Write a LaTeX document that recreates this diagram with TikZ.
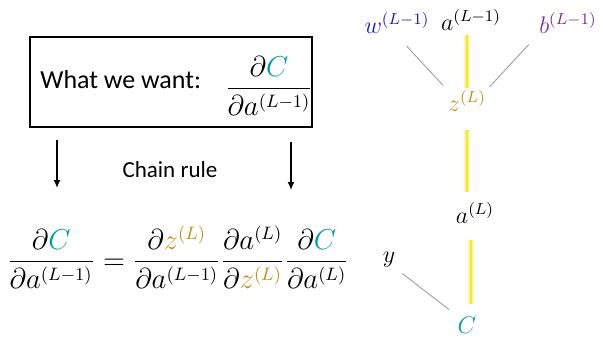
\documentclass[tikz,border=0pt]{standalone}
\usepackage{fontspec}
\setmainfont{Carlito}
\usepackage{amsmath}
\usetikzlibrary{arrows.meta}
\definecolor{costteal}{RGB}{0,158,158}
\definecolor{zgold}{RGB}{190,145,20}
\definecolor{wblue}{RGB}{25,25,200}
\definecolor{bpurple}{RGB}{112,48,160}
\definecolor{pathyellow}{RGB}{245,232,40}

\begin{document}
\begin{tikzpicture}[x=0.5pt, y=-0.5pt,
    mathlbl/.style={inner sep=1pt, font=\fontsize{12}{14}\selectfont},
    eqn/.style={inner sep=0pt, font=\fontsize{13.5}{16}\selectfont},
    glow/.style={line width=3.2pt, pathyellow!40},
    chain/.style={line width=1.2pt, pathyellow},
    weak/.style={gray!70, line width=0.5pt},
    down/.style={-{Latex[length=4pt,width=3.5pt]}, line width=0.7pt}]
    \useasboundingbox (0,0) rectangle (600,338);

    % Nodes
    \node[draw, line width=0.8pt, minimum width=141pt, minimum height=45pt] (want) at (171,82) {};
    \node[anchor=west, inner sep=0pt, font=\fontsize{13}{15}\selectfont] (wantTxt) at (40,80) {What we want:};
    \node[eqn] (wantFrac) at (269,86) {$\dfrac{\partial \textcolor{costteal}{C}}{\partial a^{(L-1)}}$};
    \node[inner sep=0pt, font=\fontsize{11.5}{14}\selectfont] (rule) at (170,170) {Chain rule};
    \node[eqn, anchor=base] (chainEq) at (178,269) {$\dfrac{\partial \textcolor{costteal}{C}}{\partial a^{(L-1)}} = \dfrac{\partial \textcolor{zgold}{z^{(L)}}}{\partial a^{(L-1)}}\dfrac{\partial a^{(L)}}{\partial \textcolor{zgold}{z^{(L)}}}\dfrac{\partial \textcolor{costteal}{C}}{\partial a^{(L)}}$};

    \node[mathlbl, text=wblue] (w) at (397,23) {$w^{(L-1)}$};
    \node[mathlbl] (aprev) at (471,20) {$a^{(L-1)}$};
    \node[mathlbl, text=bpurple] (b) at (568,23) {$b^{(L-1)}$};
    \node[mathlbl, text=zgold] (z) at (467,101) {$z^{(L)}$};
    \node[mathlbl] (aL) at (475,213) {$a^{(L)}$};
    \node[mathlbl] (y) at (389,260) {$y$};
    \node[mathlbl, text=costteal] (C) at (467,325) {$C$};

    \coordinate (l1) at (57,140);
    \coordinate (l2) at (57,188);
    \coordinate (r1) at (291,142);
    \coordinate (r2) at (291,190);

    % Edges
    \draw[down] (l1) -- (l2);
    \draw[down] (r1) -- (r2);

    \foreach \s in {glow, chain} {
        \draw[\s, shorten >=1pt] (z.north) -- (z.north |- aprev.south);
        \draw[\s, shorten <=8pt, shorten >=4pt] (z.south) -- (z.south |- aL.north);
        \draw[\s, shorten <=7pt, shorten >=5pt] ([xshift=-2pt]aL.south) -- ([xshift=-2pt]aL.south |- C.north);
    }
    \draw[weak, shorten <=7pt, shorten >=2pt] (w.south) -- (z.north west);
    \draw[weak, shorten <=6pt, shorten >=1pt] (b.south west) -- (z.north east);
    \draw[weak, shorten <=3pt, shorten >=4pt] (y.south east) -- (C.north west);
\end{tikzpicture}
\end{document}
